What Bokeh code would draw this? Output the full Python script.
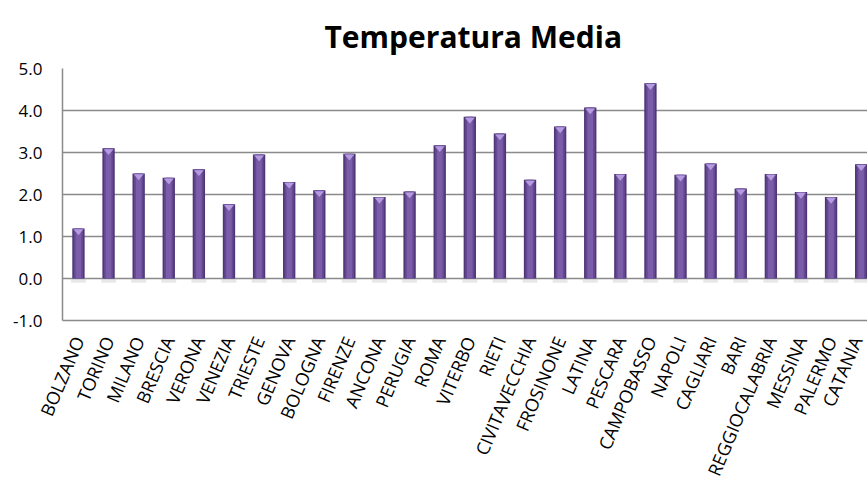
from bokeh.plotting import figure
from bokeh.models import FixedTicker, NumeralTickFormatter, Range1d, ColumnDataSource
from bokeh.embed import file_html
from bokeh.resources import INLINE

cities = ["BOLZANO", "TORINO", "MILANO", "BRESCIA", "VERONA", "VENEZIA", "TRIESTE",
          "GENOVA", "BOLOGNA", "FIRENZE", "ANCONA", "PERUGIA", "ROMA", "VITERBO",
          "RIETI", "CIVITAVECCHIA", "FROSINONE", "LATINA", "PESCARA", "CAMPOBASSO",
          "NAPOLI", "CAGLIARI", "BARI", "REGGIOCALABRIA", "MESSINA", "PALERMO", "CATANIA"]
temps = [1.19, 3.10, 2.50, 2.40, 2.60, 1.77, 2.95, 2.30, 2.10, 2.97, 1.94, 2.07, 3.17,
         3.85, 3.45, 2.35, 3.62, 4.07, 2.49, 4.65, 2.47, 2.74, 2.14, 2.49, 2.06, 1.94, 2.72]
y_ticks = [-1, 0, 1, 2, 3, 4, 5]
title_text = "Temperatura Media"

idx = list(range(len(cities)))
W = 0.41

p = figure(width=867, height=488, output_backend="svg", toolbar_location=None,
           x_range=Range1d(-0.53, 26.21), y_range=Range1d(-1, 5),
           min_border_left=62, min_border_right=0, min_border_top=68, min_border_bottom=168,
           title=title_text)
p.outline_line_color = None
p.background_fill_color = "white"
p.border_fill_color = "white"

p.title.align = "left"
p.title.offset = 262
p.title.text_font = "Open Sans"
p.title.text_font_size = "30px"
p.title.text_font_style = "bold"
p.title.text_color = "black"
p.title.standoff = 24

grid_col = "#8a8a8a"
p.xgrid.grid_line_color = None
p.ygrid.ticker = FixedTicker(ticks=y_ticks)
p.ygrid.grid_line_color = grid_col
p.ygrid.grid_line_width = 1.5

p.yaxis.ticker = FixedTicker(ticks=y_ticks)
p.yaxis.formatter = NumeralTickFormatter(format="0.0")
p.yaxis.major_tick_line_color = None
p.yaxis.minor_tick_line_color = None
p.yaxis.axis_line_color = grid_col
p.yaxis.axis_line_width = 1.5
p.yaxis.major_label_text_font = "Open Sans"
p.yaxis.major_label_text_font_size = "17px"
p.yaxis.major_label_text_color = "black"
p.yaxis.major_label_standoff = 14

p.xaxis.ticker = FixedTicker(ticks=idx)
p.xaxis.major_label_overrides = {i: c for i, c in zip(idx, cities)}
p.xaxis.major_label_orientation = 1.17
p.xaxis.major_tick_line_color = None
p.xaxis.minor_tick_line_color = None
p.xaxis.axis_line_color = grid_col
p.xaxis.axis_line_width = 1.5
p.xaxis.major_label_text_font = "Open Sans"
p.xaxis.major_label_text_font_size = "18px"
p.xaxis.major_label_text_color = "black"
p.xaxis.major_label_standoff = 11

src = ColumnDataSource(dict(x=idx, top=temps))
# shadow
p.vbar(x="x", top=0, bottom=-0.1, width=W * 1.2, source=src, fill_color="#bdbdbd",
       fill_alpha=0.35, line_color=None)
# bar body layers (simulated gradient)
p.vbar(x="x", top="top", bottom=0, width=W, source=src, fill_color="#4f3676", line_color=None)
p.vbar(x="x", top="top", bottom=0, width=W * 0.75, source=src, fill_color="#654892", line_color=None)
p.vbar(x="x", top="top", bottom=0, width=W * 0.45, source=src, fill_color="#7a5ca8", line_color=None)
# top cap highlight
xs = [[i - W / 2 * 0.8, i + W / 2 * 0.8, i] for i in idx]
ys = [[t - 0.02, t - 0.02, t - 0.16] for t in temps]
p.patches(xs, ys, fill_color="#b49be0", line_color=None)

open("out.html", "w").write(file_html(p, INLINE))
